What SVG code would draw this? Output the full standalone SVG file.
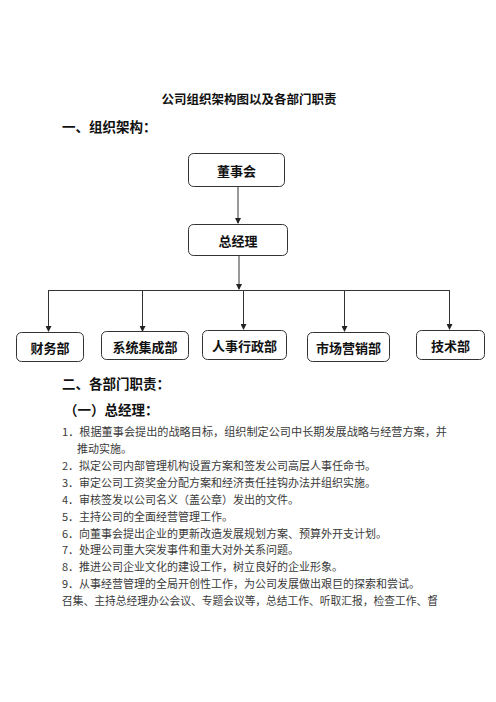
<svg xmlns="http://www.w3.org/2000/svg" width="496" height="702" viewBox="0 0 496 702">
<defs>
<marker id="ah" markerWidth="6" markerHeight="6" refX="5" refY="3" orient="auto" markerUnits="userSpaceOnUse">
<path d="M0,0 L6,3 L0,6 Z" fill="#222"/>
</marker>
<style>
.box{fill:#fff;stroke:#333;stroke-width:1}
.lbl{font-family:"Noto Sans CJK SC","Liberation Sans",sans-serif;font-size:13px;font-weight:bold;fill:#111;text-anchor:middle;dominant-baseline:central}
.h{font-family:"Noto Sans CJK SC","Liberation Sans",sans-serif;font-weight:bold;fill:#111}
.t{font-family:"Noto Sans CJK SC","Liberation Serif",sans-serif;font-size:11px;fill:#3a3a3a}
.c{fill:none;stroke:#333;stroke-width:1}
</style>
</defs>
<rect width="496" height="702" fill="#fff"/>
<text class="h" x="249" y="104" font-size="12.5" text-anchor="middle">公司组织架构图以及各部门职责</text>
<text class="h" x="62" y="132" font-size="13.5">一、组织架构：</text>

<g id="connectors">
<line class="c" x1="238" y1="186" x2="238" y2="223" marker-end="url(#ah)"/>
<line class="c" x1="239" y1="255" x2="239" y2="289" marker-end="url(#ah)"/>
<line class="c" x1="48.5" y1="290.5" x2="449.5" y2="290.5"/>
<line class="c" x1="48.5" y1="290" x2="48.5" y2="331" marker-end="url(#ah)"/>
<line class="c" x1="142.5" y1="290" x2="142.5" y2="331" marker-end="url(#ah)"/>
<line class="c" x1="243.5" y1="290" x2="243.5" y2="329" marker-end="url(#ah)"/>
<line class="c" x1="344.5" y1="290" x2="344.5" y2="331" marker-end="url(#ah)"/>
<line class="c" x1="449.5" y1="290" x2="449.5" y2="329" marker-end="url(#ah)"/>
</g>

<g id="n-dongshihui"><rect class="box" x="188.5" y="153.5" width="96" height="33" rx="5"/><text class="lbl" x="236.5" y="170">董事会</text></g>
<g id="n-zongjingli"><rect class="box" x="188.5" y="224.5" width="99" height="31" rx="5"/><text class="lbl" x="238" y="240">总经理</text></g>
<g id="n-caiwu"><rect class="box" x="16.5" y="332.5" width="67" height="29" rx="5"/><text class="lbl" x="50" y="347">财务部</text></g>
<g id="n-xitong"><rect class="box" x="101.5" y="331.5" width="87" height="28" rx="5"/><text class="lbl" x="145" y="346">系统集成部</text></g>
<g id="n-renshi"><rect class="box" x="202.5" y="330.5" width="84" height="29" rx="5"/><text class="lbl" x="244.5" y="345">人事行政部</text></g>
<g id="n-shichang"><rect class="box" x="307.5" y="332.5" width="82" height="29" rx="5"/><text class="lbl" x="348.5" y="347">市场营销部</text></g>
<g id="n-jishu"><rect class="box" x="416.5" y="330.5" width="68" height="29" rx="5"/><text class="lbl" x="450.5" y="345">技术部</text></g>

<text class="h" x="62" y="389" font-size="13.5">二、各部门职责：</text>
<text class="h" x="64" y="415" font-size="13.5">（一）总经理：</text>

<text class="t" x="62" y="436" textLength="385" lengthAdjust="spacingAndGlyphs">1．根据董事会提出的战略目标，组织制定公司中长期发展战略与经营方案，并</text>
<text class="t" x="77" y="453">推动实施。</text>
<text class="t" x="62" y="470">2．拟定公司内部管理机构设置方案和签发公司高层人事任命书。</text>
<text class="t" x="62" y="487">3．审定公司工资奖金分配方案和经济责任挂钩办法并组织实施。</text>
<text class="t" x="62" y="504">4．审核签发以公司名义（盖公章）发出的文件。</text>
<text class="t" x="62" y="521">5．主持公司的全面经营管理工作。</text>
<text class="t" x="62" y="538">6．向董事会提出企业的更新改造发展规划方案、预算外开支计划。</text>
<text class="t" x="62" y="554">7．处理公司重大突发事件和重大对外关系问题。</text>
<text class="t" x="62" y="571">8．推进公司企业文化的建设工作，树立良好的企业形象。</text>
<text class="t" x="62" y="588">9．从事经营管理的全局开创性工作，为公司发展做出艰巨的探索和尝试。</text>
<text class="t" x="62" y="605" textLength="376" lengthAdjust="spacingAndGlyphs">召集、主持总经理办公会议、专题会议等，总结工作、听取汇报，检查工作、督</text>
</svg>
